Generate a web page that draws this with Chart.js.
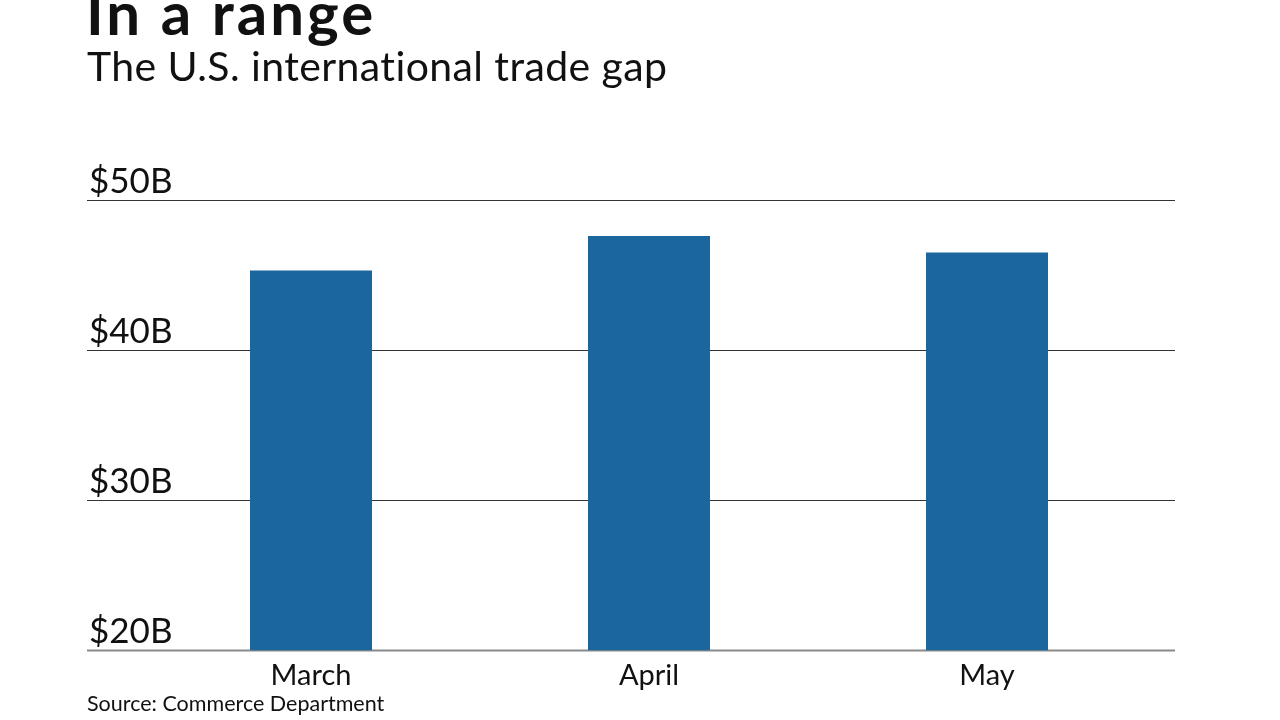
<!DOCTYPE html>
<html>
<head>
<meta charset="utf-8">
<script src="https://cdn.jsdelivr.net/npm/chart.js@4"></script>
<style>
  html, body { margin: 0; padding: 0; background: #fff; }
  #wrap { position: relative; width: 1280px; height: 720px; overflow: hidden; font-family: Lato, sans-serif; color: #111; }
  #title { position: absolute; left: 86px; top: -24px; font-size: 60px; font-weight: 700; letter-spacing: 3px; white-space: nowrap; }
  #subtitle { position: absolute; left: 87px; top: 41px; font-size: 41px; letter-spacing: 0.4px; white-space: nowrap; }
  #source { position: absolute; left: 87px; top: 690px; font-size: 21.5px; white-space: nowrap; }
  canvas { position: absolute; left: 0; top: 0; }
</style>
</head>
<body>
<div id="wrap">
  <canvas id="chart" width="1280" height="720"></canvas>
  <div id="title">In a range</div>
  <div id="subtitle">The U.S. international trade gap</div>
  <div id="source">Source: Commerce Department</div>
</div>
<script>
// data (billions of dollars)
const months = ['March', 'April', 'May'];
const tradeGap = [45.3, 47.6, 46.5];
const yTicks = [20, 30, 40, 50];

// grid lines run wider than the bars, with labels sitting on top of them
const gridLabels = {
  id: 'gridLabels',
  beforeDatasetsDraw(chart) {
    const { ctx, scales: { y } } = chart;
    ctx.save();
    yTicks.forEach(v => {
      const py = Math.round(y.getPixelForValue(v)) + 0.5;
      ctx.beginPath();
      ctx.moveTo(87, py);
      ctx.lineTo(1175, py);
      ctx.lineWidth = v === yTicks[0] ? 2 : 1.2;
      ctx.strokeStyle = v === yTicks[0] ? '#8a8a8a' : '#333';
      ctx.stroke();
      ctx.fillStyle = '#111';
      ctx.font = '35px Lato';
      ctx.textBaseline = 'alphabetic';
      ctx.fillText('$' + v + 'B', 89, py - 8);
    });
    ctx.restore();
  }
};

const ctx = document.getElementById('chart').getContext('2d');
new Chart(ctx, {
  type: 'bar',
  data: {
    labels: months,
    datasets: [{
      label: 'Trade gap',
      data: tradeGap,
      backgroundColor: '#1b679d',
      borderWidth: 0,
      categoryPercentage: 1,
      barPercentage: 0.361,
    }],
  },
  options: {
    responsive: false,
    animation: false,
    layout: {
      padding: { top: 200, left: 142, right: 124, bottom: 27 },
    },
    plugins: {
      legend: { display: false },
      tooltip: { enabled: false },
    },
    scales: {
      y: {
        display: false,
        min: 20,
        max: 50,
      },
      x: {
        grid: { display: false },
        border: { display: false },
        ticks: {
          color: '#111',
          padding: 0,
          font: { family: 'Lato', size: 29 },
        },
      },
    },
  },
  plugins: [gridLabels],
});
</script>
</body>
</html>
